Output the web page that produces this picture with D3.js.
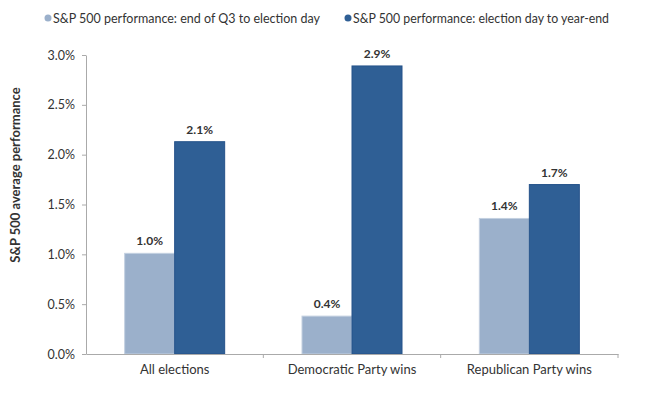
<!DOCTYPE html>
<html>
<head>
<meta charset="utf-8">
<script src="https://cdn.jsdelivr.net/npm/d3@7"></script>
<style>
  body { margin: 0; background: #fff; }
  text { font-family: Lato, "Open Sans", sans-serif; fill: #333; }
</style>
</head>
<body>
<div id="chart"></div>
<script>
const categories = ['All elections', 'Democratic Party wins', 'Republican Party wins'];
const seriesNames = ['S&P 500 performance: end of Q3 to election day', 'S&P 500 performance: election day to year-end'];
const q3ToElection = [1.01, 0.38, 1.36];
const electionToYearEnd = [2.13, 2.89, 1.70];
const valueLabels = [['1.0%', '0.4%', '1.4%'], ['2.1%', '2.9%', '1.7%']];
const yTicks = [0, 0.5, 1.0, 1.5, 2.0, 2.5, 3.0];

const W = 650, H = 396;
const margin = { top: 55, right: 32, bottom: 42, left: 86 };
const width = W - margin.left - margin.right;
const height = H - margin.top - margin.bottom;
const colors = ['#9bb0cb', '#2f5f95'];

const svg = d3.select('#chart').append('svg')
  .attr('width', W).attr('height', H);

const g = svg.append('g').attr('transform', `translate(${margin.left},${margin.top})`);

const x = d3.scaleBand().domain(categories).range([0, width]).paddingInner(0).paddingOuter(0);
const x1 = d3.scaleBand().domain([0, 1]).range([x.bandwidth() / 2 - 50, x.bandwidth() / 2 + 50]);
const y = d3.scaleLinear().domain([0, 3]).range([height, 0]);

// y axis
const yAxis = g.append('g')
  .call(d3.axisLeft(y).tickValues(yTicks).tickSize(4).tickSizeOuter(0).tickFormat(d => d.toFixed(1) + '%'));
yAxis.select('.domain').attr('stroke', '#aaa');
yAxis.selectAll('.tick line').attr('stroke', '#aaa');
yAxis.selectAll('.tick text').attr('font-size', 12.5).attr('fill', '#444').attr('x', -11)
  .style('font-family', 'Lato, sans-serif');

// bars
const series = [q3ToElection, electionToYearEnd];
series.forEach((vals, si) => {
  g.selectAll('.bar' + si)
    .data(vals)
    .enter().append('rect')
    .attr('x', (d, i) => x(categories[i]) + x1(si))
    .attr('y', d => y(d))
    .attr('width', x1.bandwidth())
    .attr('height', d => y(0) - y(d))
    .attr('fill', colors[si])
    .attr('stroke', si === 0 ? '#c3d0e0' : '#24528a')
    .attr('stroke-width', 1);

  g.selectAll('.lbl' + si)
    .data(vals)
    .enter().append('text')
    .attr('x', (d, i) => x(categories[i]) + x1(si) + x1.bandwidth() / 2)
    .attr('y', d => y(d) - 8)
    .attr('text-anchor', 'middle')
    .attr('font-size', 12)
    .attr('font-weight', 'bold')
    .text((d, i) => valueLabels[si][i]);
});

// x axis
const xAxis = g.append('g')
  .attr('transform', `translate(0,${height})`)
  .call(d3.axisBottom(x).tickSize(0).tickSizeOuter(0));
xAxis.select('.domain').attr('stroke', '#aaa');
xAxis.selectAll('.tick text').attr('font-size', 13).attr('fill', '#333').attr('dy', '1.3em')
  .style('font-family', 'Lato, sans-serif');
// separator ticks between categories
g.selectAll('.sep')
  .data(categories.slice(1).concat(['end']))
  .enter().append('line')
  .attr('x1', (d, i) => i < 2 ? x(d) : width)
  .attr('x2', (d, i) => i < 2 ? x(d) : width)
  .attr('y1', height).attr('y2', height + 4)
  .attr('stroke', '#aaa');

// y axis title
svg.append('text')
  .attr('transform', `translate(20,175) rotate(-90)`)
  .attr('text-anchor', 'middle')
  .attr('font-size', 13)
  .attr('font-weight', 'bold')
  .text('S&P 500 average performance');

// legend
const legendX = [48, 348];
const legendLen = [267, 256];
seriesNames.forEach((name, i) => {
  const lg = svg.append('g').attr('transform', `translate(${legendX[i]},18)`);
  lg.append('circle').attr('r', 3.5).attr('cx', 0).attr('cy', 0).attr('fill', colors[i]);
  lg.append('text').attr('x', 5).attr('y', 5).attr('font-size', 14).attr('fill', '#444')
    .attr('textLength', legendLen[i]).attr('lengthAdjust', 'spacingAndGlyphs').text(name);
});
</script>
</body>
</html>
